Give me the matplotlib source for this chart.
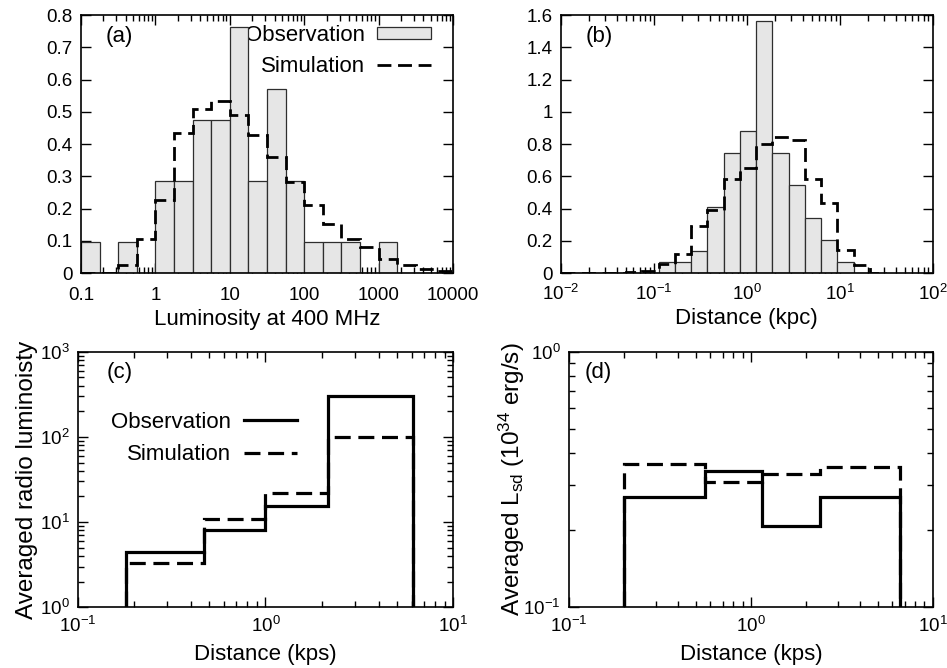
import numpy as np
import matplotlib
matplotlib.use('Agg')
import matplotlib.pyplot as plt
from matplotlib.ticker import MultipleLocator, LogLocator, NullFormatter, FuncFormatter
from matplotlib.lines import Line2D
from matplotlib.patches import Patch

plt.rcParams['font.family'] = ['Liberation Sans', 'DejaVu Sans']
plt.rcParams['mathtext.fontset'] = 'custom'
plt.rcParams['mathtext.rm'] = 'Liberation Sans'
plt.rcParams['mathtext.it'] = 'Liberation Sans:italic'
plt.rcParams['axes.unicode_minus'] = False

# (a) luminosity histogram, bins in log10(L)
lum_log_edges = [-1.0, -0.75, -0.5, -0.25, 0.0, 0.25, 0.5, 0.75, 1.0, 1.25, 1.5,
                 1.75, 2.0, 2.25, 2.5, 2.75, 3.0, 3.25, 3.5, 3.75, 4.0]
lum_obs = [0.095, 0, 0.095, 0, 0.286, 0.286, 0.476, 0.476, 0.762, 0.286, 0.571,
           0.286, 0.095, 0.095, 0.095, 0, 0.095, 0, 0, 0]
lum_sim = [0.0, 0.0, 0.024, 0.105, 0.226, 0.435, 0.51, 0.533, 0.49, 0.428, 0.36,
           0.283, 0.21, 0.151, 0.105, 0.081, 0.045, 0.026, 0.012, 0.005]

# (b) distance histogram, bins in log10(d)
dist_log_edges = [-2.0, -1.825, -1.65, -1.475, -1.3, -1.125, -0.95, -0.775, -0.6,
                  -0.425, -0.25, -0.075, 0.1, 0.275, 0.45, 0.625, 0.8, 0.975,
                  1.15, 1.325, 1.5]
dist_obs = [0, 0, 0, 0, 0, 0, 0.068, 0.068, 0.136, 0.407, 0.747, 0.882, 1.56,
            0.747, 0.543, 0.340, 0.204, 0.068, 0, 0]
dist_sim = [0, 0, 0, 0.002, 0.005, 0.012, 0.058, 0.116, 0.29, 0.39, 0.58, 0.652,
            0.803, 0.845, 0.824, 0.582, 0.437, 0.141, 0.048, 0.0]

# (c) averaged radio luminosity vs distance
c_edges = [0.18, 0.47, 0.99, 2.16, 6.1]
c_obs = [4.5, 8.1, 15.6, 300]
c_sim = [3.3, 10.9, 21.7, 100]

# (d) averaged spin-down luminosity vs distance
d_edges = [0.20, 0.56, 1.15, 2.40, 6.6]
d_obs = [0.269, 0.340, 0.208, 0.269]
d_sim = [0.362, 0.310, 0.332, 0.353]

BAR_FC = '#e6e6e6'
BAR_EC = '#2e2e2e'
DASH = (0, (5, 2.4))
TICK_FS = 13.5
LAB_FS = 16
YLAB_FS = 17.5


def style(ax, xpad=6):
    ax.tick_params(which='both', direction='in', top=True, right=True,
                   labelsize=TICK_FS, width=1)
    ax.tick_params(which='major', length=7, pad=6)
    ax.tick_params(which='minor', length=4)
    ax.tick_params(axis='x', which='major', pad=xpad)
    for s in ax.spines.values():
        s.set_linewidth(1.2)


fig = plt.figure(figsize=(9.47, 6.68), dpi=100)
ax_a = fig.add_axes([0.0855, 0.5913, 0.3929, 0.3862])
ax_b = fig.add_axes([0.5924, 0.5913, 0.3925, 0.3862])
ax_c = fig.add_axes([0.0820, 0.0909, 0.3967, 0.3826])
ax_d = fig.add_axes([0.6008, 0.0909, 0.3841, 0.3826])

minor_subs = np.arange(2, 10) * 1.0

# ---- (a)
e = 10 ** np.array(lum_log_edges)
ax_a.set_xscale('log')
ax_a.bar(e[:-1], lum_obs, width=np.diff(e), align='edge', color=BAR_FC,
         edgecolor=BAR_EC, linewidth=0.9, zorder=2)
ax_a.stairs(lum_sim, e, baseline=None, color='black', lw=2.0, ls=DASH, zorder=3)
ax_a.set_xlim(0.1, 10000)
ax_a.set_ylim(0, 0.8)
ax_a.yaxis.set_major_locator(MultipleLocator(0.1))
ax_a.yaxis.set_major_formatter(FuncFormatter(lambda v, p: '%g' % round(v, 3)))
ax_a.xaxis.set_major_locator(LogLocator(base=10, numticks=20))
ax_a.xaxis.set_minor_locator(LogLocator(base=10, subs=minor_subs, numticks=100))
ax_a.xaxis.set_major_formatter(FuncFormatter(lambda v, p: '%g' % v))
ax_a.xaxis.set_minor_formatter(NullFormatter())
ax_a.set_xlabel('Luminosity at 400 MHz', fontsize=LAB_FS, labelpad=4)
ax_a.text(0.065, 0.915, '(a)', transform=ax_a.transAxes, fontsize=LAB_FS,
          ha='left', va='center')
h_obs = Patch(facecolor=BAR_FC, edgecolor=BAR_EC, linewidth=0.9)
h_sim = Line2D([], [], color='black', lw=2.0, ls=DASH)
leg = ax_a.legend([h_obs, h_sim], ['Observation', 'Simulation'], loc='upper right',
                  bbox_to_anchor=(0.94, 0.962), markerfirst=False, frameon=False,
                  fontsize=LAB_FS, handlelength=2.4, handleheight=0.45,
                  handletextpad=0.55, labelspacing=0.45, borderpad=0, borderaxespad=0)
leg.set_zorder(1)
style(ax_a, xpad=10)

# ---- (b)
e = 10 ** np.array(dist_log_edges)
ax_b.set_xscale('log')
ax_b.bar(e[:-1], dist_obs, width=np.diff(e), align='edge', color=BAR_FC,
         edgecolor=BAR_EC, linewidth=0.9, zorder=2)
ax_b.stairs(dist_sim, e, baseline=None, color='black', lw=2.0, ls=DASH, zorder=3)
ax_b.set_xlim(0.01, 100)
ax_b.set_ylim(0, 1.6)
ax_b.yaxis.set_major_locator(MultipleLocator(0.2))
ax_b.yaxis.set_major_formatter(FuncFormatter(lambda v, p: '%g' % round(v, 3)))
ax_b.xaxis.set_major_locator(LogLocator(base=10, numticks=20))
ax_b.xaxis.set_minor_locator(LogLocator(base=10, subs=minor_subs, numticks=100))
ax_b.xaxis.set_minor_formatter(NullFormatter())
ax_b.set_xlabel('Distance (kpc)', fontsize=LAB_FS, labelpad=3)
ax_b.text(0.065, 0.915, '(b)', transform=ax_b.transAxes, fontsize=LAB_FS,
          ha='left', va='center')
style(ax_b, xpad=8)

# ---- (c)
ax_c.set_xscale('log')
ax_c.set_yscale('log')
ax_c.stairs(c_obs, c_edges, baseline=1, color='black', lw=2.3, label='Observation')
ax_c.stairs(c_sim, c_edges, baseline=1, color='black', lw=2.3, ls=DASH, label='Simulation')
ax_c.set_xlim(0.1, 10)
ax_c.set_ylim(1, 1000)
for axis in (ax_c.xaxis, ax_c.yaxis):
    axis.set_minor_locator(LogLocator(base=10, subs=minor_subs, numticks=100))
    axis.set_minor_formatter(NullFormatter())
ax_c.set_xlabel('Distance (kps)', fontsize=LAB_FS, labelpad=6)
ax_c.set_ylabel('Averaged radio luminoisty', fontsize=YLAB_FS, labelpad=1)
ax_c.text(0.078, 0.92, '(c)', transform=ax_c.transAxes, fontsize=LAB_FS,
          ha='left', va='center')
h1 = Line2D([], [], color='black', lw=2.3)
h2 = Line2D([], [], color='black', lw=2.3, ls=DASH)
ax_c.legend([h1, h2], ['Observation', 'Simulation'], loc='upper right',
            bbox_to_anchor=(0.584, 0.765), markerfirst=False, frameon=False,
            fontsize=LAB_FS, handlelength=2.4, handletextpad=0.55,
            labelspacing=0.52, borderpad=0, borderaxespad=0)
style(ax_c)

# ---- (d)
ax_d.set_xscale('log')
ax_d.set_yscale('log')
ax_d.stairs(d_obs, d_edges, baseline=0.1, color='black', lw=2.3)
ax_d.stairs(d_sim, d_edges, baseline=0.1, color='black', lw=2.3, ls=DASH)
ax_d.set_xlim(0.1, 10)
ax_d.set_ylim(0.1, 1)
for axis in (ax_d.xaxis, ax_d.yaxis):
    axis.set_minor_locator(LogLocator(base=10, subs=minor_subs, numticks=100))
    axis.set_minor_formatter(NullFormatter())
ax_d.set_xlabel('Distance (kps)', fontsize=LAB_FS, labelpad=6)
ax_d.set_ylabel(r'Averaged L$_{\mathrm{sd}}$ (10$^{34}$ erg/s)', fontsize=YLAB_FS, labelpad=-3)
ax_d.text(0.044, 0.92, '(d)', transform=ax_d.transAxes, fontsize=LAB_FS,
          ha='left', va='center')
style(ax_d)

fig.savefig('out.png', dpi=100)
